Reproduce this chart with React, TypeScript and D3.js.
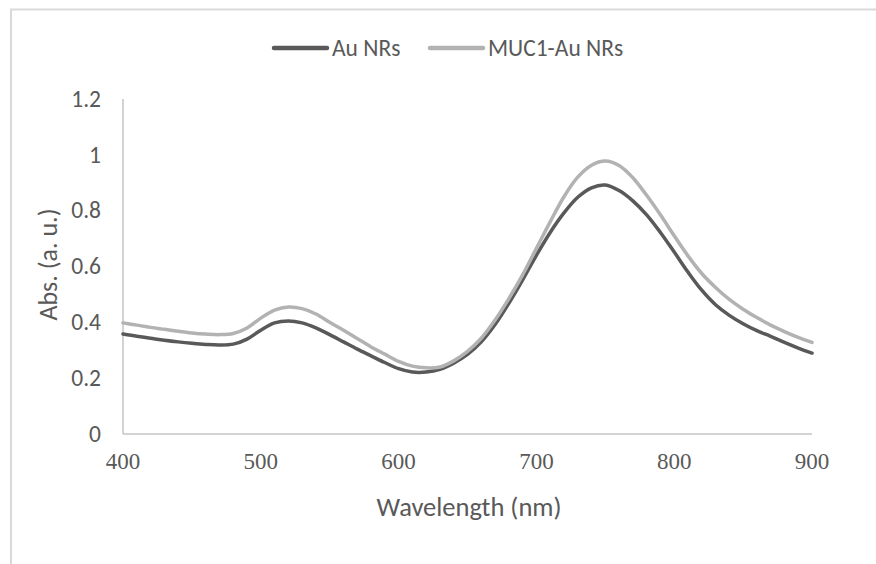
import React, { useEffect, useRef } from "react";
import * as d3 from "d3";

// wavelength in nm
const wavelengths = [
  400, 410, 420, 430, 440, 450, 460, 470, 480, 490, 500, 510, 520, 530, 540, 550, 560, 570, 580, 590, 600,
  610, 620, 630, 640, 650, 660, 670, 680, 690, 700, 710, 720, 730, 740, 750, 760, 770, 780, 790, 800,
  810, 820, 830, 840, 850, 860, 870, 880, 890, 900,
];

const auNRs = [
  0.358, 0.35, 0.343, 0.336, 0.33, 0.325, 0.321, 0.319, 0.322, 0.34, 0.372, 0.398, 0.405, 0.398, 0.38,
  0.356, 0.33, 0.304, 0.28, 0.256, 0.234, 0.222, 0.222, 0.232, 0.254, 0.285, 0.33, 0.392, 0.468, 0.552,
  0.64, 0.722, 0.792, 0.848, 0.882, 0.892, 0.872, 0.835, 0.785, 0.722, 0.652, 0.58, 0.515, 0.463, 0.425,
  0.395, 0.37, 0.35, 0.328, 0.308, 0.29,
];

const muc1AuNRs = [
  0.398, 0.39, 0.382, 0.375, 0.368, 0.362, 0.358, 0.356, 0.36, 0.38, 0.415, 0.444, 0.455, 0.449, 0.43,
  0.4, 0.372, 0.342, 0.312, 0.286, 0.26, 0.243, 0.237, 0.24, 0.262, 0.296, 0.343, 0.408, 0.485, 0.57,
  0.665, 0.76, 0.85, 0.92, 0.963, 0.978, 0.962, 0.918, 0.855, 0.785, 0.71, 0.638, 0.575, 0.525, 0.482,
  0.447, 0.417, 0.39, 0.367, 0.346, 0.328,
];

const seriesNames = ["Au NRs", "MUC1-Au NRs"];
const seriesColors = ["#595959", "#b2b2b2"];
const xTicks = [400, 500, 600, 700, 800, 900];
const yTicks = [0, 0.2, 0.4, 0.6, 0.8, 1, 1.2];

const W = 876;
const H = 564;

export default function App() {
  const ref = useRef<SVGSVGElement | null>(null);

  useEffect(() => {
    const svg = d3.select(ref.current);
    svg.selectAll("*").remove();

    const left = 123,
      right = 812,
      top = 99,
      bottom = 434;

    const x = d3.scaleLinear().domain([400, 900]).range([left, right]);
    const y = d3.scaleLinear().domain([0, 1.2]).range([bottom, top]);

    const sans = "Calibri, Carlito, Lato, sans-serif";
    const grey = "#595959";

    // chart border, only top and left edges fall inside the picture
    svg
      .append("path")
      .attr("d", `M11,${H} L11,9.5 L${W},9.5`)
      .attr("fill", "none")
      .attr("stroke", "#d9d9d9")
      .attr("stroke-width", 2);

    // axes
    svg
      .append("line")
      .attr("x1", left)
      .attr("x2", left)
      .attr("y1", y(1.2))
      .attr("y2", bottom)
      .attr("stroke", "#c4c4c4")
      .attr("stroke-width", 1.5);
    svg
      .append("line")
      .attr("x1", left)
      .attr("x2", right)
      .attr("y1", bottom)
      .attr("y2", bottom)
      .attr("stroke", "#c4c4c4")
      .attr("stroke-width", 1.5);

    svg
      .append("g")
      .selectAll("text")
      .data(yTicks)
      .join("text")
      .attr("x", 101)
      .attr("y", (d) => y(d))
      .attr("dy", "0.33em")
      .attr("text-anchor", "end")
      .attr("font-family", sans)
      .attr("font-size", 23.5)
      .attr("fill", grey)
      .text((d) => String(d));

    svg
      .append("g")
      .selectAll("text")
      .data(xTicks)
      .join("text")
      .attr("x", (d) => x(d))
      .attr("y", 469)
      .attr("text-anchor", "middle")
      .attr("font-family", "'Liberation Serif', 'Times New Roman', serif")
      .attr("font-size", 23)
      .attr("fill", grey)
      .text((d) => String(d));

    svg
      .append("text")
      .attr("x", 469)
      .attr("y", 516)
      .attr("text-anchor", "middle")
      .attr("font-family", sans)
      .attr("font-size", 26.5)
      .attr("fill", grey)
      .text("Wavelength (nm)");

    svg
      .append("text")
      .attr("transform", `translate(57,${(top + bottom) / 2 - 2}) rotate(-90)`)
      .attr("text-anchor", "middle")
      .attr("font-family", sans)
      .attr("font-size", 26)
      .attr("fill", grey)
      .text("Abs. (a. u.)");

    const line = d3
      .line<number>()
      .x((_, i) => x(wavelengths[i]))
      .y((d) => y(d))
      .curve(d3.curveCatmullRom);

    // series drawn in legend order, the light one ends up on top
    [auNRs, muc1AuNRs].forEach((vals, i) => {
      svg
        .append("path")
        .datum(vals)
        .attr("fill", "none")
        .attr("stroke", seriesColors[i])
        .attr("stroke-width", 3.5)
        .attr("stroke-linecap", "round")
        .attr("d", line);
    });

    // legend
    const legendX = [274, 430];
    seriesNames.forEach((name, i) => {
      svg
        .append("line")
        .attr("x1", legendX[i])
        .attr("x2", legendX[i] + 53)
        .attr("y1", 48)
        .attr("y2", 48)
        .attr("stroke", seriesColors[i])
        .attr("stroke-width", 4.5)
        .attr("stroke-linecap", "round");
      svg
        .append("text")
        .attr("x", legendX[i] + 58)
        .attr("y", 48)
        .attr("dy", "0.34em")
        .attr("font-family", sans)
        .attr("font-size", 23.5)
        .attr("fill", grey)
        .text(name);
    });
  }, []);

  return (
    <svg
      ref={ref}
      width={W}
      height={H}
      style={{ position: "absolute", left: 0, top: 0, background: "#fff" }}
    />
  );
}
